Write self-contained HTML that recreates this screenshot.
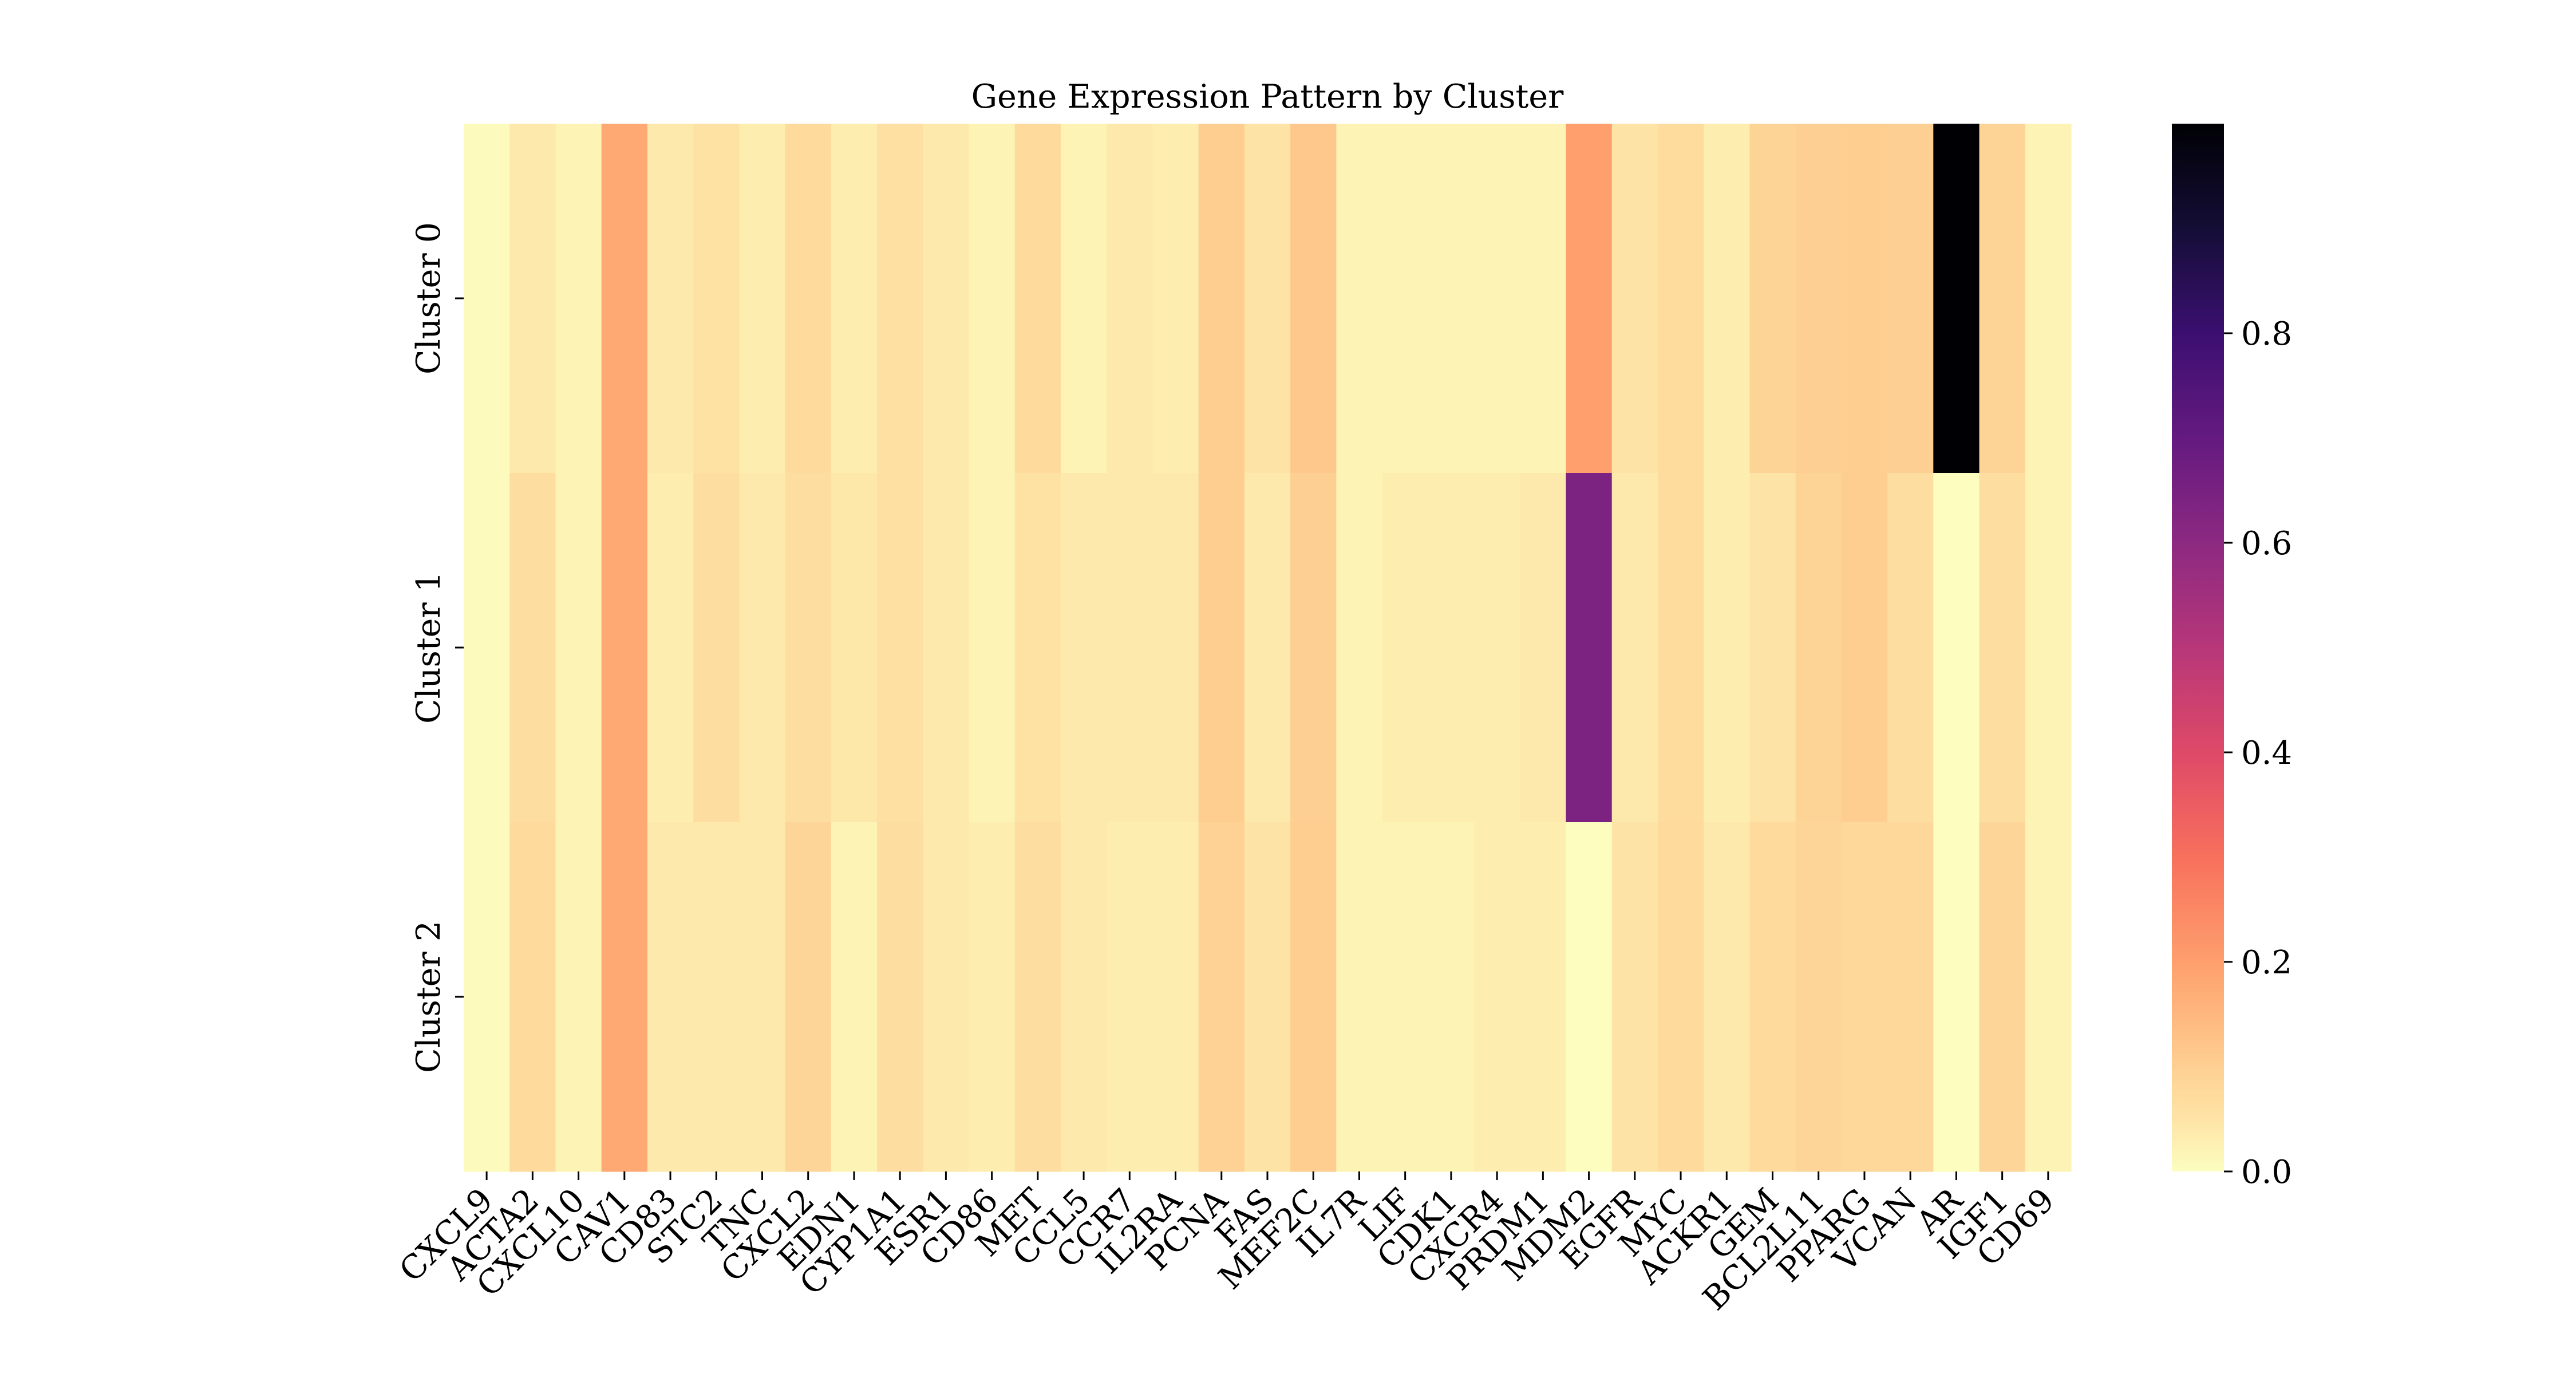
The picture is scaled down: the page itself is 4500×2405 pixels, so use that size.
<!DOCTYPE html>
<html><head><meta charset="utf-8"><style>
html,body{margin:0;padding:0;background:#fff;}
svg text{font-family:"DejaVu Serif","Liberation Serif",serif;fill:#000;}
</style></head><body>
<svg id="chart" width="4500" height="2400" viewBox="0 0 4500 2400" xmlns="http://www.w3.org/2000/svg">
<defs><linearGradient id="cbgrad" x1="0" y1="1" x2="0" y2="0"></linearGradient></defs>
<text x="2214" y="188" font-size="57" text-anchor="middle">Gene Expression Pattern by Cluster</text>
<g id="cells"></g><g id="xaxis"></g><g id="yaxis"></g><g id="cbar"></g>
</svg>
<script>
const genes = ["CXCL9","ACTA2","CXCL10","CAV1","CD83","STC2","TNC","CXCL2","EDN1","CYP1A1","ESR1","CD86","MET","CCL5","CCR7","IL2RA","PCNA","FAS","MEF2C","IL7R","LIF","CDK1","CXCR4","PRDM1","MDM2","EGFR","MYC","ACKR1","GEM","BCL2L11","PPARG","VCAN","AR","IGF1","CD69"];
const clusters = ["Cluster 0","Cluster 1","Cluster 2"];
const cluster0 = [0.005,0.04,0.02,0.18,0.04,0.055,0.03,0.075,0.03,0.06,0.04,0.02,0.075,0.02,0.04,0.03,0.105,0.05,0.115,0.02,0.02,0.02,0.02,0.02,0.20,0.05,0.07,0.03,0.09,0.10,0.105,0.10,1.0,0.09,0.02];
const cluster1 = [0.005,0.065,0.02,0.18,0.03,0.065,0.04,0.065,0.045,0.06,0.04,0.02,0.055,0.04,0.04,0.04,0.105,0.04,0.10,0.02,0.03,0.03,0.03,0.04,0.64,0.04,0.07,0.03,0.05,0.09,0.105,0.065,0.0,0.065,0.02];
const cluster2 = [0.005,0.075,0.02,0.18,0.04,0.04,0.04,0.085,0.02,0.065,0.04,0.03,0.065,0.04,0.03,0.03,0.095,0.05,0.105,0.02,0.02,0.02,0.03,0.03,0.0,0.05,0.075,0.04,0.075,0.085,0.08,0.08,0.0,0.085,0.02];
const cbTicks = [0.0,0.2,0.4,0.6,0.8];
const vmin = 0, vmax = 1.0;
const rows = [cluster0, cluster1, cluster2];

const X0=810, X1=3618, Y0=216, Y1=2046;
const cw=(X1-X0)/genes.length, ch=(Y1-Y0)/clusters.length;
const xPos=i=>X0+i*cw, yPos=j=>Y0+j*ch;
const CB_X=3794, CB_W=91;
const cbY=v=>Y1-(v-vmin)/(vmax-vmin)*(Y1-Y0);

const mstops=[[0,"#000004"],[0.1,"#140e36"],[0.2,"#3b0f70"],[0.3,"#641a80"],[0.4,"#8c2981"],[0.5,"#b73779"],[0.6,"#de4968"],[0.7,"#f7705c"],[0.8,"#fe9f6d"],[0.85,"#feb77e"],[0.9,"#fecf92"],[0.95,"#fde4a6"],[1,"#fcfdbf"]];
function hex(c){return [1,3,5].map(i=>parseInt(c.substr(i,2),16));}
function color(v){
  let t=1-Math.max(0,Math.min(1,(v-vmin)/(vmax-vmin)));
  for(let k=0;k<mstops.length-1;k++){
    const [a,ca]=mstops[k],[b,cb]=mstops[k+1];
    if(t<=b){const f=(t-a)/(b-a);const A=hex(ca),B=hex(cb);
      return "rgb("+A.map((x,i)=>Math.round(x+(B[i]-x)*f)).join(",")+")";}
  }
  return "#fcfdbf";
}
const NS="http://www.w3.org/2000/svg";
function mk(tag,attrs,parent){const e=document.createElementNS(NS,tag);for(const k in attrs)e.setAttribute(k,attrs[k]);parent.appendChild(e);return e;}
const cells=document.getElementById('cells');
rows.forEach((row,j)=>row.forEach((v,i)=>{
  const r=mk('rect',{x:xPos(i),y:yPos(j),width:cw+0.6,height:ch+0.6,fill:color(v)},cells);
  
  
}));
const xa=document.getElementById('xaxis');
genes.forEach((g,i)=>{
  const cx=xPos(i)+cw/2;
  const t=mk('line',{x1:cx,y1:Y1,x2:cx,y2:Y1+15,stroke:'#000','stroke-width':3},xa);
  
  
  const tx=mk('text',{x:0,y:0,'font-size':57,'text-anchor':'end',transform:`translate(${cx+14},${Y1+54}) rotate(-45)`},xa);
  tx.textContent=g;
  
  
});
const ya=document.getElementById('yaxis');
clusters.forEach((c,j)=>{
  const cy=yPos(j)+ch/2;
  const t=mk('line',{x1:X0-15,y1:cy,x2:X0,y2:cy,stroke:'#000','stroke-width':3},ya);
  
  
  const tx=mk('text',{x:0,y:0,'font-size':57,'text-anchor':'middle',transform:`translate(${X0-42},${cy}) rotate(-90)`},ya);
  tx.textContent=c;
  
  
});
const grad=document.getElementById('cbgrad');
for(let k=0;k<=40;k++){const v=vmin+(vmax-vmin)*k/40;mk('stop',{offset:(k/40),'stop-color':color(v)},grad);}
const cb=document.getElementById('cbar');
const cr=mk('rect',{x:CB_X,y:Y0,width:CB_W,height:Y1-Y0,fill:'url(#cbgrad)'},cb);


cbTicks.forEach(v=>{
  const y=cbY(v);
  const t=mk('line',{x1:CB_X+CB_W,y1:y,x2:CB_X+CB_W+15,y2:y,stroke:'#000','stroke-width':3},cb);
  
  
  const tx=mk('text',{x:CB_X+CB_W+30,y:y+20,'font-size':56},cb);
  tx.textContent=v.toFixed(1);
  
  
});
</script>
</body></html>
